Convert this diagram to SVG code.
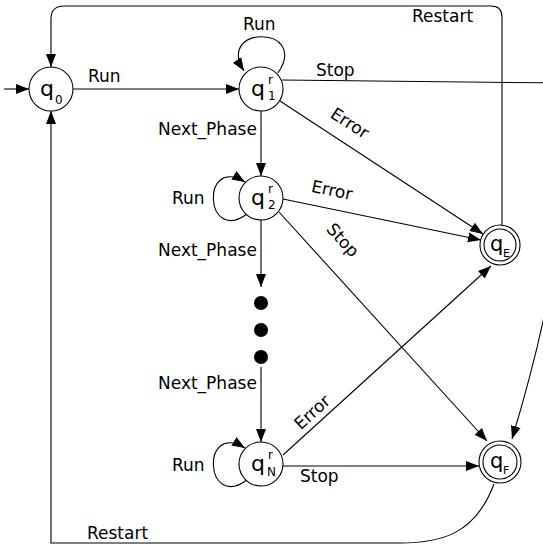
<svg xmlns="http://www.w3.org/2000/svg" width="543" height="547" viewBox="0 0 543 547">
  <style>
    .st { fill: #fff; stroke: #000; stroke-width: 1.1; }
    .edge { fill: none; stroke: #000; stroke-width: 1.1; }
    .lbl { font-family: "DejaVu Sans", "Liberation Sans", sans-serif; font-size: 17px; fill: #000; }
    .q { font-family: "DejaVu Sans", "Liberation Sans", sans-serif; font-size: 22px; fill: #000; }
    .qs { font-family: "DejaVu Sans", "Liberation Sans", sans-serif; font-size: 12px; fill: #000; }
    .qa { font-family: "DejaVu Sans", "Liberation Sans", sans-serif; font-size: 21px; fill: #000; }
    .qas { font-family: "DejaVu Sans", "Liberation Sans", sans-serif; font-size: 11px; fill: #000; }
  </style>
  <defs>
    <marker id="arr" markerUnits="userSpaceOnUse" markerWidth="14" markerHeight="12" viewBox="0 0 14 12" refX="13" refY="6" orient="auto">
      <path d="M0,1 L13,6 L0,11 Z" fill="#000"/>
    </marker>
  </defs>
  <rect width="543" height="547" fill="#fff"/>

  <g id="connectors">
    <!-- start arrow -->
    <path class="edge" d="M4,89 L29,89" marker-end="url(#arr)"/>
    <!-- q0 -> q1 Run -->
    <path class="edge" d="M73,89 L239,89" marker-end="url(#arr)"/>
    <!-- q1 self loop Run -->
    <path class="edge" d="M278,73 C310,25 215,25 244,71" marker-end="url(#arr)"/>
    <!-- q1 Stop, leaves the frame and returns into qF -->
    <path class="edge" d="M282,80 L560,83 C575,200 545,330 512,439" marker-end="url(#arr)"/>
    <!-- q1 -> qE Error -->
    <path class="edge" d="M280,101 L483,234" marker-end="url(#arr)"/>
    <!-- q1 -> q2 Next_Phase -->
    <path class="edge" d="M261,111 L261,176" marker-end="url(#arr)"/>
    <!-- q2 self loop Run -->
    <path class="edge" d="M247,214 C205,245 200,155 245,182" marker-end="url(#arr)"/>
    <!-- q2 -> qE Error -->
    <path class="edge" d="M283,199 L481,240" marker-end="url(#arr)"/>
    <!-- q2 -> qF Stop -->
    <path class="edge" d="M279,212 L487,441" marker-end="url(#arr)"/>
    <!-- q2 -> ... Next_Phase -->
    <path class="edge" d="M261,220 L261,287" marker-end="url(#arr)"/>
    <!-- ... -> qN Next_Phase -->
    <path class="edge" d="M261,367 L261,442" marker-end="url(#arr)"/>
    <!-- qN self loop Run -->
    <path class="edge" d="M247,480 C205,511 200,421 245,448" marker-end="url(#arr)"/>
    <!-- qN -> qE Error -->
    <path class="edge" d="M283,455 L491,266" marker-end="url(#arr)"/>
    <!-- qN -> qF Stop -->
    <path class="edge" d="M283,466 L479,466" marker-end="url(#arr)"/>
    <!-- qE -> q0 Restart (over the top) -->
    <path class="edge" d="M502,225 L502,17 Q502,6 491,6 L64,6 Q51,6 51,19 L51,67" marker-end="url(#arr)"/>
    <!-- qF -> q0 Restart (along the bottom) -->
    <path class="edge" d="M494,484 C475,535 440,543 400,543 L51,543 L51,111" marker-end="url(#arr)"/>
  </g>

  <g id="labels">
    <text class="lbl" x="88" y="82">Run</text>
    <text class="lbl" x="243" y="30">Run</text>
    <text class="lbl" x="316" y="76">Stop</text>
    <text class="lbl" x="412" y="22">Restart</text>
    <text class="lbl" text-anchor="middle" x="350" y="129" transform="rotate(33 350 123)">Error</text>
    <text class="lbl" x="158" y="135">Next_Phase</text>
    <text class="lbl" x="172" y="204">Run</text>
    <text class="lbl" text-anchor="middle" x="332" y="196" transform="rotate(11.6 332 190)">Error</text>
    <text class="lbl" text-anchor="middle" x="343" y="246" transform="rotate(47.6 343 240)">Stop</text>
    <text class="lbl" x="158" y="256">Next_Phase</text>
    <text class="lbl" x="158" y="389">Next_Phase</text>
    <text class="lbl" x="172" y="471">Run</text>
    <text class="lbl" text-anchor="middle" x="312" y="418" transform="rotate(-42.4 312 412)">Error</text>
    <text class="lbl" x="300" y="482">Stop</text>
    <text class="lbl" x="87" y="539">Restart</text>
  </g>

  <g id="q0">
    <circle class="st" cx="51" cy="89" r="22"/>
    <text class="q" x="40" y="96">q</text>
    <text class="qs" x="55" y="104">0</text>
  </g>
  <g id="q1">
    <circle class="st" cx="261" cy="89" r="22"/>
    <text class="q" x="251" y="96">q</text>
    <text class="qs" x="268" y="84">r</text>
    <text class="qs" x="268" y="100">1</text>
  </g>
  <g id="q2">
    <circle class="st" cx="261" cy="198" r="22"/>
    <text class="q" x="251" y="205">q</text>
    <text class="qs" x="268" y="193">r</text>
    <text class="qs" x="268" y="209">2</text>
  </g>
  <g id="ellipsis">
    <circle cx="261" cy="303" r="7" fill="#000"/>
    <circle cx="261" cy="330" r="7" fill="#000"/>
    <circle cx="261" cy="357" r="7" fill="#000"/>
  </g>
  <g id="qN">
    <circle class="st" cx="261" cy="464" r="22"/>
    <text class="q" x="251" y="471">q</text>
    <text class="qs" x="268" y="459">r</text>
    <text class="qs" x="267" y="476">N</text>
  </g>
  <g id="qE">
    <circle class="st" cx="500" cy="245" r="20"/>
    <circle class="st" cx="500" cy="245" r="16"/>
    <text class="qa" x="490" y="251">q</text>
    <text class="qas" x="503" y="257">E</text>
  </g>
  <g id="qF">
    <circle class="st" cx="500" cy="462" r="21"/>
    <circle class="st" cx="500" cy="462" r="17"/>
    <text class="qa" x="490" y="468">q</text>
    <text class="qas" x="503" y="474">F</text>
  </g>
</svg>
